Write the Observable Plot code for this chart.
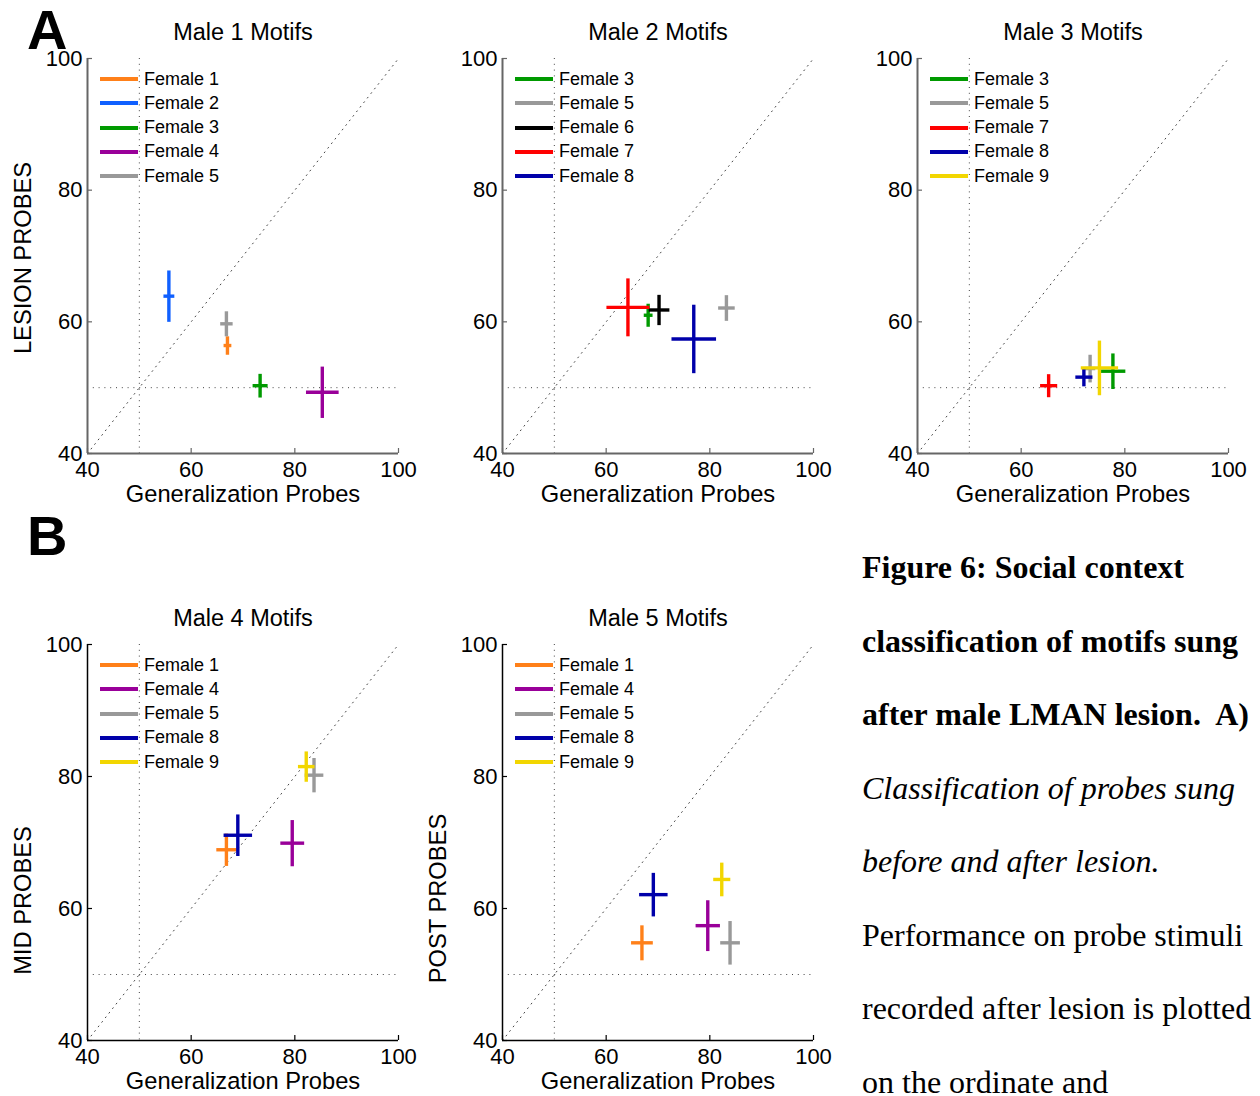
<!DOCTYPE html>
<html>
<head>
<meta charset="utf-8">
<script src="https://cdn.jsdelivr.net/npm/d3@7"></script>
<script src="https://cdn.jsdelivr.net/npm/@observablehq/plot@0.6"></script>
<style>
  html, body { margin: 0; padding: 0; background: #fff; }
  #fig { position: relative; width: 1260px; height: 1096px; overflow: hidden; font-family: "Liberation Sans", Arial, Helvetica, sans-serif; }
  .panel { position: absolute; }
  .panel svg { overflow: visible; display: block; }
  .legend { position: absolute; font-size: 18px; color: #000; }
  .legend .row { height: 24.25px; display: flex; align-items: center; white-space: nowrap; }
  .legend .swatch { width: 38px; height: 4px; margin-right: 6px; }
  .letter { position: absolute; font-weight: bold; font-size: 56px; line-height: 56px; }
  .caption { position: absolute; left: 862px; top: 531px; font-family: "Liberation Serif", "Times New Roman", serif; font-size: 32px; line-height: 73.5px; color: #000; white-space: pre; }
</style>
</head>
<body>
<div id="fig"></div>
<script>
// ---------- data ----------
const femaleNames  = ["Female 1","Female 2","Female 3","Female 4","Female 5","Female 6","Female 7","Female 8","Female 9"];
const femaleColors = ["#ff8019","#1060ff","#009a00","#990099","#999999","#000000","#ff0000","#0000aa","#f2d600"];

const xTicks = [40, 60, 80, 100];
const yTicks = [40, 60, 80, 100];
const chanceLevel = [50];
const diagonal = [40, 100];
const xAxisLabel = "Generalization Probes";

// Male 1 (lesion probes)
const m1Females = ["Female 1","Female 2","Female 3","Female 4","Female 5"];
const m1GenX    = [67.0, 55.7, 73.3, 85.3, 66.8];
const m1GenXErr = [0.75, 1.05, 1.45, 3.15, 1.2];
const m1ProbeY    = [56.4, 63.9, 50.3, 49.3, 59.7];
const m1ProbeYErr = [1.4, 3.9, 1.8, 3.9, 1.9];

// Male 2 (lesion probes)
const m2Females = ["Female 3","Female 5","Female 6","Female 7","Female 8"];
const m2GenX    = [68.1, 83.2, 70.2, 64.2, 76.9];
const m2GenXErr = [0.85, 1.6, 2.0, 4.15, 4.3];
const m2ProbeY    = [61.0, 62.1, 61.8, 62.2, 57.4];
const m2ProbeYErr = [1.75, 1.95, 2.3, 4.4, 5.2];

// Male 3 (lesion probes)
const m3Females = ["Female 3","Female 5","Female 7","Female 8","Female 9"];
const m3GenX    = [77.7, 73.3, 65.3, 72.1, 75.1];
const m3GenXErr = [2.4, 1.0, 1.65, 1.65, 3.6];
const m3ProbeY    = [52.5, 52.9, 50.3, 51.6, 53.0];
const m3ProbeYErr = [2.7, 2.1, 1.75, 1.4, 4.15];

// Male 4 (mid probes)
const m4Females = ["Female 1","Female 4","Female 5","Female 8","Female 9"];
const m4GenX    = [66.8, 79.5, 83.7, 69.0, 82.2];
const m4GenXErr = [1.95, 2.3, 1.8, 2.75, 1.6];
const m4ProbeY    = [68.9, 69.9, 80.2, 71.1, 81.5];
const m4ProbeYErr = [2.45, 3.5, 2.6, 3.15, 2.3];

// Male 5 (post probes)
const m5Females = ["Female 1","Female 4","Female 5","Female 8","Female 9"];
const m5GenX    = [66.9, 79.6, 83.9, 69.1, 82.3];
const m5GenXErr = [2.1, 2.35, 1.9, 2.75, 1.65];
const m5ProbeY    = [54.8, 57.4, 54.8, 62.1, 64.4];
const m5ProbeYErr = [2.65, 3.85, 3.3, 3.3, 2.55];

const captionLines = [
  {text: "Figure 6: Social context", style: "bold"},
  {text: "classification of motifs sung", style: "bold"},
  {text: "after male LMAN lesion.  A)", style: "bold"},
  {text: "Classification of probes sung", style: "italic"},
  {text: "before and after lesion.", style: "italic"},
  {text: "Performance on probe stimuli", style: "normal"},
  {text: "recorded after lesion is plotted", style: "normal"},
  {text: "on the ordinate and", style: "normal"}
];

// ---------- drawing ----------
const FONT = '"Liberation Sans", Arial, Helvetica, sans-serif';
const fig = document.getElementById("fig");

function panel(cfg) {
  const W = 420, H = 510, mL = 87, mR = 22, mT = 58, mB = cfg.marginBottom;
  const innerW = W - mL - mR, innerH = H - mT - mB;
  // flatten crosses into segments, per female (so draw order follows legend order)
  const segs = [];
  cfg.females.forEach((f, i) => {
    const x = cfg.gx[i], y = cfg.py[i], xe = cfg.gxErr[i], ye = cfg.pyErr[i];
    segs.push({female: f, x1: x - xe, x2: x + xe, y1: y, y2: y});
    segs.push({female: f, x1: x, x2: x, y1: y - ye, y2: y + ye});
  });
  const dotted = {stroke: "#444", strokeWidth: 1, strokeDasharray: "1,4.8"};
  const svg = Plot.plot({
    width: W, height: H,
    marginLeft: mL, marginRight: mR, marginTop: mT, marginBottom: mB,
    x: {domain: [40, 100]},
    y: {domain: [40, 100]},
    color: {domain: femaleNames, range: femaleColors},
    style: {fontFamily: FONT, fontSize: "22px", color: "#000", background: "transparent", overflow: "visible"},
    marks: [
      Plot.ruleX(chanceLevel, dotted),
      Plot.ruleY(chanceLevel, dotted),
      Plot.line(diagonal, {x: d => d, y: d => d, ...dotted}),
      Plot.ruleX([xTicks[0]], {stroke: cfg.axisColor, strokeWidth: cfg.axisWidth}),
      Plot.ruleY([yTicks[0]], {stroke: cfg.axisColor, strokeWidth: cfg.axisWidth}),
      Plot.tickX(xTicks, {x: d => d, insetTop: innerH - 5, stroke: cfg.axisColor, strokeWidth: 1.2}),
      Plot.tickY(yTicks, {y: d => d, insetRight: innerW - 5, stroke: cfg.axisColor, strokeWidth: 1.2}),
      Plot.axisX({ticks: xTicks, tickSize: 0, tickPadding: 8, label: null, fontSize: 22}),
      Plot.axisY({ticks: yTicks, tickSize: 0, tickPadding: 5, label: null, fontSize: 22}),
      Plot.link(segs, {x1: "x1", x2: "x2", y1: "y1", y2: "y2", stroke: "female", strokeWidth: 3.4}),
      Plot.text([cfg.title], {text: d => d, frameAnchor: "top", lineAnchor: "middle", textAnchor: "middle", dy: -26, fontSize: 23.5}),
      Plot.text([xAxisLabel], {text: d => d, frameAnchor: "bottom", lineAnchor: "middle", textAnchor: "middle", dy: 41, fontSize: 23.7}),
      cfg.yLabel ? Plot.text([cfg.yLabel], {text: d => d, frameAnchor: "left", lineAnchor: "middle", textAnchor: "middle", rotate: -90, dx: -64, dy: cfg.yLabelShift, fontSize: 23.7}) : null
    ]
  });
  const wrap = document.createElement("div");
  wrap.className = "panel";
  wrap.style.left = cfg.left + "px";
  wrap.style.top = cfg.top + "px";
  wrap.appendChild(svg);
  fig.appendChild(wrap);

  // legend
  const lg = document.createElement("div");
  lg.className = "legend";
  lg.style.left = (cfg.left + mL + 13) + "px";
  lg.style.top = (cfg.top + mT + 21 - 12.125) + "px";
  cfg.females.forEach(f => {
    const row = document.createElement("div");
    row.className = "row";
    const sw = document.createElement("div");
    sw.className = "swatch";
    sw.style.background = femaleColors[femaleNames.indexOf(f)];
    const tx = document.createElement("span");
    tx.textContent = f;
    row.appendChild(sw); row.appendChild(tx);
    lg.appendChild(row);
  });
  fig.appendChild(lg);
}

panel({title: "Male 1 Motifs", yLabel: "LESION PROBES", yLabelShift: 2, females: m1Females, gx: m1GenX, gxErr: m1GenXErr, py: m1ProbeY, pyErr: m1ProbeYErr, axisColor: "#666", axisWidth: 2, left: 0, top: 0, marginBottom: 57});
panel({title: "Male 2 Motifs", yLabel: null, females: m2Females, gx: m2GenX, gxErr: m2GenXErr, py: m2ProbeY, pyErr: m2ProbeYErr, axisColor: "#666", axisWidth: 2, left: 415, top: 0, marginBottom: 57});
panel({title: "Male 3 Motifs", yLabel: null, females: m3Females, gx: m3GenX, gxErr: m3GenXErr, py: m3ProbeY, pyErr: m3ProbeYErr, axisColor: "#666", axisWidth: 2, left: 830, top: 0, marginBottom: 57});
panel({title: "Male 4 Motifs", yLabel: "MID PROBES", yLabelShift: 58, females: m4Females, gx: m4GenX, gxErr: m4GenXErr, py: m4ProbeY, pyErr: m4ProbeYErr, axisColor: "#000", axisWidth: 1.5, left: 0, top: 586, marginBottom: 56});
panel({title: "Male 5 Motifs", yLabel: "POST PROBES", yLabelShift: 56, females: m5Females, gx: m5GenX, gxErr: m5GenXErr, py: m5ProbeY, pyErr: m5ProbeYErr, axisColor: "#000", axisWidth: 1.5, left: 415, top: 586, marginBottom: 56});

// panel letters
[["A", 27, 2], ["B", 27, 508]].forEach(([t, l, tp]) => {
  const d = document.createElement("div");
  d.className = "letter";
  d.textContent = t;
  d.style.left = l + "px";
  d.style.top = tp + "px";
  fig.appendChild(d);
});

// caption
const cap = document.createElement("div");
cap.className = "caption";
captionLines.forEach(l => {
  const d = document.createElement("div");
  d.textContent = l.text;
  if (l.style === "bold") d.style.fontWeight = "bold";
  if (l.style === "italic") d.style.fontStyle = "italic";
  cap.appendChild(d);
});
fig.appendChild(cap);
</script>
</body>
</html>
